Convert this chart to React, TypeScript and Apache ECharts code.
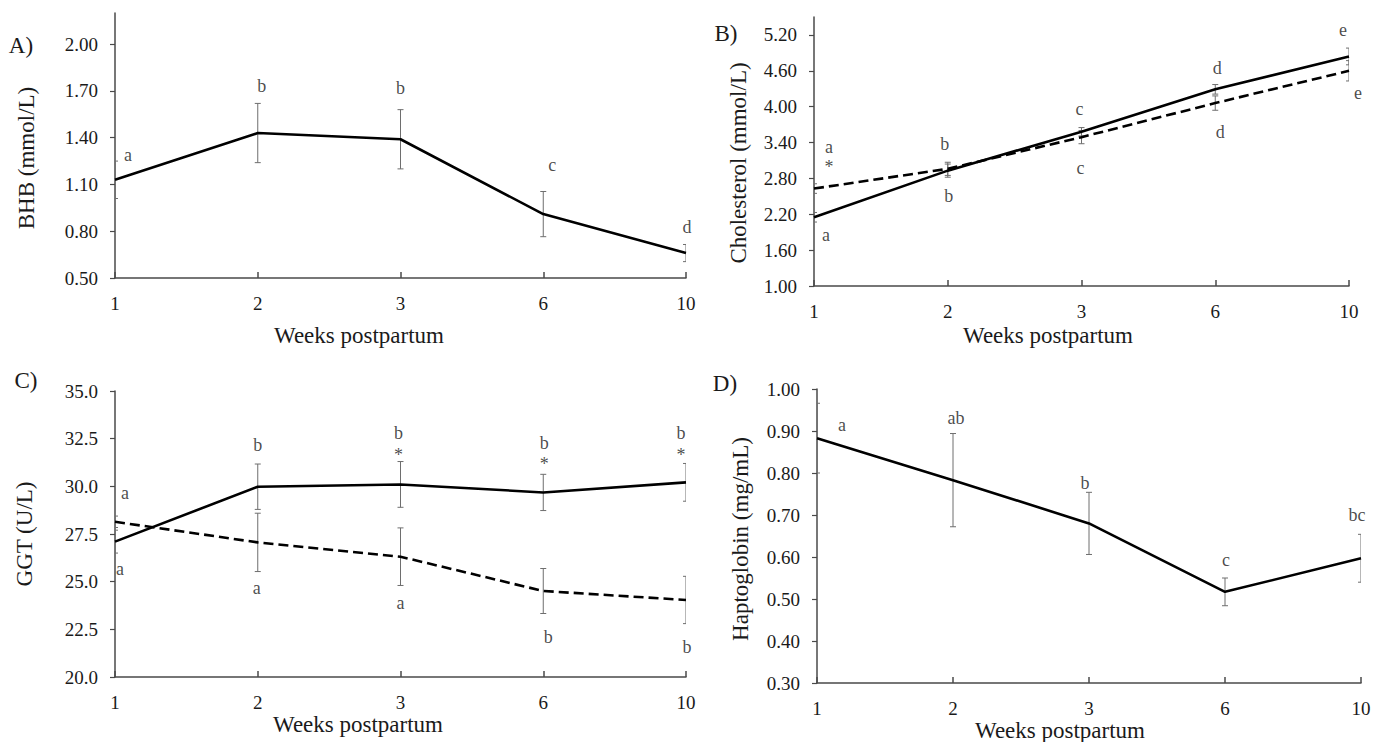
import React, { useEffect, useRef } from "react";
import * as echarts from "echarts";

// ---------- DATA ----------
const weeks = ["1", "2", "3", "6", "10"];

// Panel A: BHB (mmol/L)
const bhbMean = [1.13, 1.43, 1.39, 0.91, 0.66];
const bhbSE = [0.12, 0.19, 0.19, 0.145, 0.055];
const bhbLetters = ["a", "b", "b", "c", "d"];
const bhbLetterY = [1.29, 1.73, 1.72, 1.225, 0.83];
const bhbTicks = [0.5, 0.8, 1.1, 1.4, 1.7, 2.0];

// Panel B: Cholesterol (mmol/L)
const cholSolid = [2.15, 2.93, 3.58, 4.29, 4.84];
const cholSolidSE = [0.08, 0.11, 0.07, 0.08, 0.14];
const cholDashed = [2.63, 2.96, 3.49, 4.06, 4.6];
const cholDashedSE = [0.08, 0.11, 0.11, 0.12, 0.17];
const cholUpperLetters = ["a", "b", "c", "d", "e"];
const cholUpperY = [3.33, 3.375, 3.956, 4.64, 5.28];
const cholStars = ["*", "", "", "", ""];
const cholStarY = [2.99, 0, 0, 0, 0];
const cholLowerLetters = ["a", "b", "c", "d", "e"];
const cholLowerY = [1.85, 2.51, 2.97, 3.58, 4.23];
const cholTicks = [1.0, 1.6, 2.2, 2.8, 3.4, 4.0, 4.6, 5.2];

// Panel C: GGT (U/L)
const ggtSolid = [27.1, 29.98, 30.1, 29.68, 30.21];
const ggtSolidSE = [0.6, 1.19, 1.2, 0.95, 0.99];
const ggtDashed = [28.14, 27.06, 26.31, 24.51, 24.04];
const ggtDashedSE = [0.3, 1.53, 1.51, 1.18, 1.24];
const ggtUpperLetters = ["a", "b", "b", "b", "b"];
const ggtUpperY = [29.63, 32.17, 32.78, 32.25, 32.78];
const ggtStars = ["", "", "*", "*", "*"];
const ggtStarY = [0, 0, 31.64, 31.15, 31.64];
const ggtLowerLetters = ["a", "a", "a", "b", "b"];
const ggtLowerY = [25.65, 24.65, 23.86, 22.11, 21.59];
const ggtTicks = [20.0, 22.5, 25.0, 27.5, 30.0, 32.5, 35.0];

// Panel D: Haptoglobin (mg/mL)
const haptoMean = [0.883, 0.783, 0.68, 0.517, 0.597];
const haptoSE = [0.083, 0.111, 0.074, 0.033, 0.057];
const haptoLetters = ["a", "ab", "b", "c", "bc"];
const haptoLetterY = [0.914, 0.93, 0.777, 0.594, 0.7];
const haptoTicks = [0.3, 0.4, 0.5, 0.6, 0.7, 0.8, 0.9, 1.0];

// ---------- STYLE ----------
const FONT = '"Liberation Serif", "Times New Roman", serif';
const TXT = "#1a1a1a";
const AXIS = "#4a4a4a";
const ERR = "#6e6e6e";

// small horizontal nudges of annotation letters (px)
const dxA = [13, 4, 0, 9, 1];
const dxBUp = [15, -3, -2, 2, -6];
const dxBStar = [15, 0, 0, 0, 0];
const dxBLow = [12, 1, -1, 5, 9];
const dxCUp = [10, 0, -2, 1, -5];
const dxCStar = [0, 0, -2, 1, -5];
const dxCLow = [5, -1, 0, 5, 1];
const dxD = [25, 3, -4, 1, -4];

const grids = [
  { left: 115, top: 13, width: 571, height: 265 },
  { left: 814, top: 17, width: 535, height: 269 },
  { left: 115, top: 391, width: 571, height: 286 },
  { left: 817, top: 389, width: 544, height: 294 },
];

function xAxisOf(i: number) {
  return {
    type: "category",
    gridIndex: i,
    data: weeks,
    boundaryGap: false,
    axisLine: { show: true, lineStyle: { color: AXIS, width: 1.5 } },
    axisTick: { show: true, inside: true, length: 6, lineStyle: { color: AXIS, width: 1.5 } },
    axisLabel: { margin: 16, fontFamily: FONT, fontSize: 19, color: TXT },
    splitLine: { show: false },
  };
}

function yAxisOf(i: number, min: number, max: number, ticks: number[], digits: number) {
  return {
    type: "value",
    gridIndex: i,
    min,
    max,
    axisLine: { show: true, lineStyle: { color: AXIS, width: 1.5 } },
    axisTick: { show: true, length: 5, customValues: ticks, lineStyle: { color: AXIS, width: 1.2 } },
    axisLabel: {
      margin: 17,
      fontFamily: FONT,
      fontSize: 19,
      color: TXT,
      customValues: ticks,
      formatter: (v: number) => v.toFixed(digits),
    },
    splitLine: { show: false },
  };
}

function lineSeries(i: number, data: number[], dashed: boolean) {
  return {
    type: "line",
    xAxisIndex: i,
    yAxisIndex: i,
    data,
    symbol: "none",
    silent: true,
    z: 3,
    lineStyle: { color: "#000", width: 2.6, type: dashed ? [10, 5] : "solid" },
  };
}

function errSeries(i: number, mean: number[], se: number[]) {
  return {
    type: "custom",
    xAxisIndex: i,
    yAxisIndex: i,
    clip: true,
    silent: true,
    z: 2,
    data: mean.map((m, k) => [k, m - se[k], m + se[k]]),
    encode: { x: 0, y: [1, 2] },
    renderItem: (_p: any, api: any) => {
      const lo = api.coord([api.value(0), api.value(1)]);
      const hi = api.coord([api.value(0), api.value(2)]);
      const w = 3;
      const style = { stroke: ERR, lineWidth: 1 };
      return {
        type: "group",
        children: [
          { type: "line", shape: { x1: lo[0], y1: lo[1], x2: hi[0], y2: hi[1] }, style },
          { type: "line", shape: { x1: lo[0] - w, y1: lo[1], x2: lo[0] + w, y2: lo[1] }, style },
          { type: "line", shape: { x1: hi[0] - w, y1: hi[1], x2: hi[0] + w, y2: hi[1] }, style },
        ],
      };
    },
  };
}

function letterSeries(i: number, texts: string[], ys: number[], dx: number[]) {
  const data: any[] = [];
  texts.forEach((t, k) => {
    if (t) data.push({ name: t, value: [k, ys[k]], label: { offset: [dx[k], 0] } });
  });
  return {
    type: "scatter",
    xAxisIndex: i,
    yAxisIndex: i,
    symbol: "circle",
    symbolSize: 1,
    silent: true,
    z: 5,
    itemStyle: { color: "rgba(255,255,255,0)" },
    label: {
      show: true,
      position: "inside",
      formatter: "{b}",
      fontFamily: FONT,
      fontSize: 18,
      color: TXT,
      textBorderWidth: 0,
      textBorderColor: "transparent",
      textShadowBlur: 0,
    },
    data,
  };
}

function txt(text: string, x: number, y: number, size: number, rotate = false) {
  return {
    type: "text",
    x,
    y,
    rotation: rotate ? Math.PI / 2 : 0,
    silent: true,
    style: {
      text,
      font: `${size}px ${FONT}`,
      fill: TXT,
      textAlign: "center",
      textVerticalAlign: "middle",
      align: "center",
      verticalAlign: "middle",
    },
  };
}

export default function App() {
  const ref = useRef<HTMLDivElement>(null);
  useEffect(() => {
    if (!ref.current) return;
    const chart = echarts.init(ref.current, undefined, { renderer: "svg" });
    chart.setOption({
      animation: false,
      backgroundColor: "#fff",
      grid: grids,
      xAxis: [0, 1, 2, 3].map((i) => xAxisOf(i)),
      yAxis: [
        yAxisOf(0, 0.5, 2.2, bhbTicks, 2),
        yAxisOf(1, 1.0, 5.5, cholTicks, 2),
        yAxisOf(2, 20, 35, ggtTicks, 1),
        yAxisOf(3, 0.3, 1.0, haptoTicks, 2),
      ],
      series: [
        errSeries(0, bhbMean, bhbSE),
        lineSeries(0, bhbMean, false),
        letterSeries(0, bhbLetters, bhbLetterY, dxA),

        errSeries(1, cholSolid, cholSolidSE),
        errSeries(1, cholDashed, cholDashedSE),
        lineSeries(1, cholSolid, false),
        lineSeries(1, cholDashed, true),
        letterSeries(1, cholUpperLetters, cholUpperY, dxBUp),
        letterSeries(1, cholStars, cholStarY, dxBStar),
        letterSeries(1, cholLowerLetters, cholLowerY, dxBLow),

        errSeries(2, ggtSolid, ggtSolidSE),
        errSeries(2, ggtDashed, ggtDashedSE),
        lineSeries(2, ggtSolid, false),
        lineSeries(2, ggtDashed, true),
        letterSeries(2, ggtUpperLetters, ggtUpperY, dxCUp),
        letterSeries(2, ggtStars, ggtStarY, dxCStar),
        letterSeries(2, ggtLowerLetters, ggtLowerY, dxCLow),

        errSeries(3, haptoMean, haptoSE),
        lineSeries(3, haptoMean, false),
        letterSeries(3, haptoLetters, haptoLetterY, dxD),
      ],
      graphic: [
        txt("A)", 21, 45, 23),
        txt("B)", 726, 33, 23),
        txt("C)", 26, 380, 23),
        txt("D)", 725, 383, 23),
        txt("BHB (mmol/L)", 26, 158, 23, true),
        txt("Cholesterol (mmol/L)", 738, 163, 23, true),
        txt("GGT (U/L)", 24, 534, 23, true),
        txt("Haptoglobin (mg/mL)", 740, 539, 23, true),
        txt("Weeks postpartum", 359, 335, 23),
        txt("Weeks postpartum", 1048, 335, 23),
        txt("Weeks postpartum", 358, 724, 23),
        txt("Weeks postpartum", 1060, 730, 23),
      ],
    });
    return () => chart.dispose();
  }, []);
  return (
    <div
      ref={ref}
      style={{ position: "absolute", left: 0, top: 0, width: 1389, height: 742, background: "#fff" }}
    />
  );
}
